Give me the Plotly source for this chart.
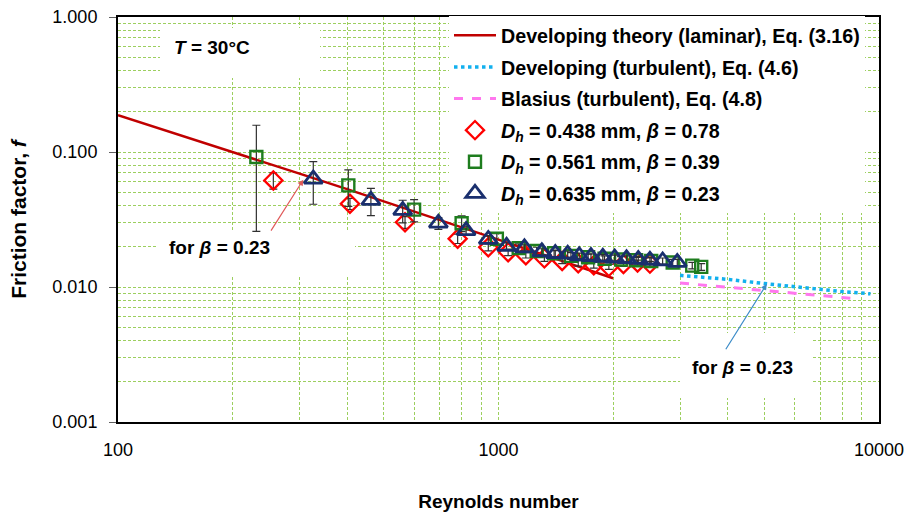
import math
import plotly.graph_objects as go

# ---------------- data ----------------
re_theory = [100, 150, 200, 300, 400, 500, 700, 1000, 1500, 2000]
f_theory = [0.187, 0.130, 0.100, 0.0692, 0.0531, 0.0431, 0.0315, 0.0225, 0.0153, 0.0116]

re_turb = [3000, 4000, 5000, 6000, 7000, 8000, 9500]
f_turb = [0.0122, 0.0114, 0.0106, 0.0100, 0.00955, 0.00925, 0.0089]

re_blasius = [3000, 4000, 5000, 6000, 7000, 8800]
f_blasius = [0.0107, 0.00995, 0.00940, 0.00899, 0.00865, 0.00817]

re_d1 = [256, 407, 568, 781, 940, 1060, 1180, 1320, 1470, 1620, 1780, 1950, 2130, 2320, 2500]
f_d1 = [0.0616, 0.0414, 0.0302, 0.0228, 0.0197, 0.0181, 0.0172, 0.0163, 0.0156, 0.0150,
        0.0145, 0.0141, 0.0148, 0.0152, 0.0149]
err_d1 = [0.0085, 0.004, 0.003, 0.0018, 0.0012, 0.001, 0.0008, 0.0008, 0.0007, 0.0007,
          0.0007, 0.0006, 0.0006, 0.0006, 0.0006]

re_d2 = [231, 403, 600, 800, 990, 1130, 1260, 1400, 1550, 1720, 1900, 2100, 2300, 2520,
         2870, 3230, 3410]
f_d2 = [0.0918, 0.0566, 0.0374, 0.0297, 0.0228, 0.0194, 0.0185, 0.0178, 0.0170, 0.0166,
        0.0162, 0.0160, 0.0158, 0.0156, 0.0152, 0.0144, 0.0141]
err_d2 = [0.066, 0.017, 0.007, 0.004, 0.002, 0.0015, 0.0012, 0.001, 0.001, 0.0009,
          0.0008, 0.0008, 0.0008, 0.0008, 0.0008, 0.0008, 0.0008]

re_d3 = [326, 462, 560, 695, 822, 940, 1050, 1170, 1300, 1410, 1520, 1630, 1750, 1880,
         2020, 2170, 2330, 2500, 2700, 2950]
f_d3 = [0.063, 0.0438, 0.0369, 0.0297, 0.0262, 0.0225, 0.0200, 0.0195, 0.0182, 0.0177,
        0.0175, 0.0170, 0.0168, 0.0166, 0.0164, 0.0162, 0.0160, 0.0158, 0.0156, 0.0152]
err_d3 = [0.022, 0.010, 0.007, 0.003, 0.002, 0.0015, 0.0012, 0.001, 0.001, 0.0009,
          0.0009, 0.0008, 0.0008, 0.0008, 0.0008, 0.0008, 0.0008, 0.0008, 0.0008, 0.0008]

x_major = [100, 1000, 10000]
x_major_text = ["100", "1000", "10000"]
x_minor = [200, 300, 400, 500, 600, 700, 800, 900,
           2000, 3000, 4000, 5000, 6000, 7000, 8000, 9000]
y_major = [0.001, 0.01, 0.1, 1]
y_major_text = ["0.001", "0.010", "0.100", "1.000"]
y_minor = [0.002, 0.003, 0.004, 0.005, 0.006, 0.007, 0.008, 0.009,
           0.02, 0.03, 0.04, 0.05, 0.06, 0.07, 0.08, 0.09,
           0.2, 0.3, 0.4, 0.5, 0.6, 0.7, 0.8, 0.9]

# ---------------- style ----------------
FONT = "Liberation Sans, Arial, sans-serif"
GRID = "#9CCF5E"
W, H = 906, 518
ML, MR, MT, MB = 118, 27, 17, 96
PW, PH = W - ML - MR, H - MT - MB


def px(x):
    return (x - ML) / PW


def py(y):
    return 1 - (y - MT) / PH


def lx(v):
    return math.log10(v)


err_style = dict(type="data", color="#303030", thickness=1.2, width=4)

fig = go.Figure()
fig.add_trace(go.Scatter(x=re_theory, y=f_theory, mode="lines", legendgroup="a",
                         name="<b>Developing theory (laminar), Eq. (3.16)</b>",
                         line=dict(color="#C00000", width=2.5)))
fig.add_trace(go.Scatter(x=re_turb, y=f_turb, mode="lines", legendgroup="b",
                         name="<b>Developing (turbulent), Eq. (4.6)</b>",
                         line=dict(color="#12B0EE", width=3.5, dash="dot")))
fig.add_trace(go.Scatter(x=re_blasius, y=f_blasius, mode="lines", legendgroup="c",
                         name="<b>Blasius (turbulent), Eq. (4.8)</b>",
                         line=dict(color="#FF77EE", width=3, dash="dash")))
fig.add_trace(go.Scatter(x=re_d1, y=f_d1, mode="markers", legendgroup="d",
                         name="<b><i>D<sub>h</sub></i> = 0.438 mm, <i>β</i> = 0.78</b>",
                         error_y=dict(array=err_d1, **err_style),
                         marker=dict(symbol="diamond-open", size=14, color="#FF0000",
                                     line=dict(width=2.3, color="#FF0000"))))
fig.add_trace(go.Scatter(x=re_d2, y=f_d2, mode="markers", legendgroup="e",
                         name="<b><i>D<sub>h</sub></i> = 0.561 mm, <i>β</i> = 0.39</b>",
                         error_y=dict(array=err_d2, **err_style),
                         marker=dict(symbol="square-open", size=12, color="#1E7D1E",
                                     line=dict(width=2.4, color="#1E7D1E"))))
fig.add_trace(go.Scatter(x=re_d3, y=f_d3, mode="markers", legendgroup="f",
                         name="<b><i>D<sub>h</sub></i> = 0.635 mm, <i>β</i> = 0.23</b>",
                         error_y=dict(array=err_d3, **err_style),
                         marker=dict(symbol="triangle-up-open", size=16, color="#1A2F6E",
                                     line=dict(width=2.8, color="#1A2F6E"))))

# white background boxes (text boxes hiding the gridlines), drawn first
boxes = [(160, 28, 320, 78), (157, 232, 355, 277), (680, 333, 813, 398)]
annots = []
for (x0, y0, x1, y1) in boxes:
    annots.append(dict(x=px((x0 + x1) / 2), y=py((y0 + y1) / 2), xref="paper", yref="paper",
                       xanchor="center", yanchor="middle", showarrow=False, text=" ",
                       width=x1 - x0, height=y1 - y0, borderpad=0, borderwidth=0,
                       bgcolor="white"))

tfont = dict(size=19, color="black", family=FONT)
annots += [
    dict(x=px(212), y=py(47), xref="paper", yref="paper", showarrow=False,
         xanchor="center", yanchor="middle",
         text="<b><i>T</i> = 30°C</b>", font=tfont),
    dict(x=px(219), y=py(247), xref="paper", yref="paper", showarrow=False,
         xanchor="center", yanchor="middle",
         text="<b>for <i>β</i> = 0.23</b>", font=tfont),
    dict(x=px(742), y=py(367), xref="paper", yref="paper", showarrow=False,
         xanchor="center", yanchor="middle",
         text="<b>for <i>β</i> = 0.23</b>", font=tfont),
    dict(x=lx(307), y=lx(0.0624), ax=lx(251), ay=lx(0.0255), xref="x", yref="y",
         axref="x", ayref="y", text="", showarrow=True, arrowhead=2, arrowsize=1,
         arrowwidth=1.2, arrowcolor="#E05A5A"),
    dict(x=lx(5070), y=lx(0.01054), ax=lx(3935), ay=lx(0.00337), xref="x", yref="y",
         axref="x", ayref="y", text="", showarrow=True, arrowhead=2, arrowsize=1,
         arrowwidth=1.2, arrowcolor="#3C8CC8"),
]

axis_common = dict(showline=True, linecolor="black", linewidth=2, mirror=True,
                   showgrid=True, gridcolor=GRID, gridwidth=1, griddash="3px,2px",
                   zeroline=False, automargin=False,
                   tickfont=dict(size=18, color="black", family=FONT))

fig.update_layout(
    width=W, height=H, margin=dict(l=ML, r=MR, t=MT, b=MB, autoexpand=False),
    paper_bgcolor="white", plot_bgcolor="white",
    font=dict(family=FONT, color="black"),
    showlegend=True,
    legend=dict(x=px(449), y=py(16), xanchor="left", yanchor="top",
                bgcolor="white", borderwidth=0, tracegroupgap=3,
                itemwidth=42,
                font=dict(size=19.7, color="black", family=FONT), traceorder="grouped"),
    xaxis=dict(type="log", range=[2, 4], tickmode="array", tickvals=x_major,
               ticktext=x_major_text, ticks="", ticklabelstandoff=10,
               minor=dict(tickmode="array", tickvals=x_minor, showgrid=True,
                          gridcolor=GRID, gridwidth=1, griddash="3px,2px", ticks=""),
               title=dict(text="<b>Reynolds number</b>", font=dict(size=19, family=FONT),
                          standoff=36),
               **axis_common),
    yaxis=dict(type="log", range=[-3, 0], tickmode="array", tickvals=y_major,
               ticktext=y_major_text, ticks="outside", ticklen=7, tickcolor="#606060",
               ticklabelstandoff=8,
               minor=dict(tickmode="array", tickvals=y_minor, showgrid=True,
                          gridcolor=GRID, gridwidth=1, griddash="3px,2px", ticks=""),
               title=dict(text="<b>Friction factor, <i>f</i></b>", font=dict(size=21, family=FONT),
                          standoff=20),
               **axis_common),
    annotations=annots,
)

fig.write_html("out.html")
